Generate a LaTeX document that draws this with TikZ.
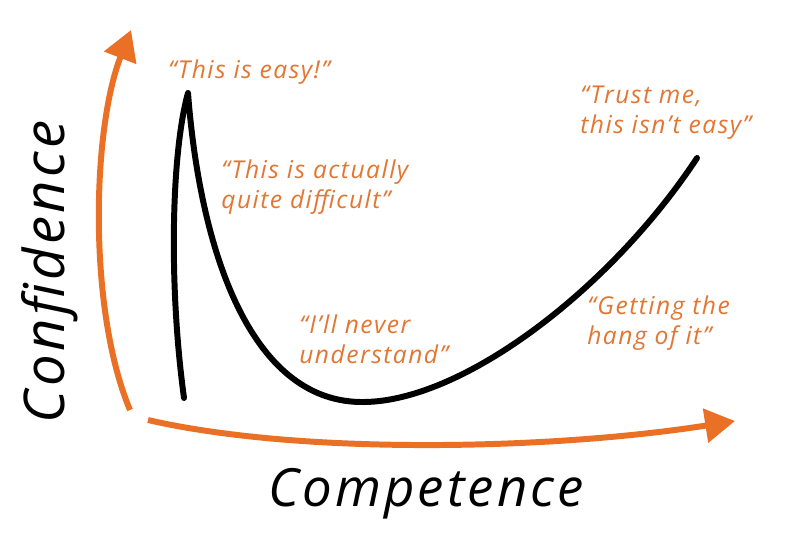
\documentclass[tikz,border=0pt]{standalone}
\usepackage{fontspec}
\setmainfont{Open Sans}
\newfontfamily\handfont[LetterSpace=6]{Open Sans}
\usepackage{xcolor}
\usetikzlibrary{arrows.meta,positioning}
\definecolor{axisorange}{RGB}{234,112,37}
\definecolor{quoteorange}{RGB}{226,118,50}

\begin{document}
\begin{tikzpicture}[x=0.02cm, y=-0.02cm,
                   axis/.style={draw=axisorange, line width=3.4pt, -{Triangle[length=17pt,width=19pt]}},
                   curve/.style={draw=black, line width=3.4pt, line cap=round, line join=round},
                   quote/.style={text=quoteorange, font=\handfont\itshape\fontsize{14}{17}\selectfont, align=left, inner sep=0pt, anchor=west},
                   axislabel/.style={font=\handfont\itshape\fontsize{30}{36}\selectfont, inner sep=0pt}]
          \useasboundingbox (0,0) rectangle (800,547);
          \coordinate (yfoot) at (130,410);
          \coordinate (ytop) at (131,30);
          \coordinate (xfoot) at (148,420);
          \coordinate (xend) at (735,421);
          \draw[axis] (yfoot) .. controls (88,310) and (92,130) .. (ytop);
          \draw[axis] (xfoot) .. controls (300,455) and (550,450) .. (xend);
          \coordinate (start) at (184,398);
          \coordinate (peak) at (188,93);
          \coordinate (low) at (360,402);
          \coordinate (finish) at (697,158);
          \draw[curve] (start) .. controls (168,280) and (172,150) .. (peak)
            .. controls (200,250) and (250,400) .. (low)
            .. controls (460,404) and (610,290) .. (finish);
          \node[quote, anchor=center] (easy) at (249,72) {“This is easy!”};
          \node[quote] (difficult) at (221,187) {“This is actually\\quite difficult”};
          \node[quote] (never) at (299,339) {“I’ll never\\understand”};
          \node[quote] (trust) at (580,113) {“Trust me,\\this isn’t easy”};
          \node[quote] (hang) at (587,323) {“Getting the\\hang of it”};
          \node[axislabel] (competence) at (426,494) {Competence};
          \node[axislabel, rotate=90, font=\handfont\itshape\fontsize{32}{38}\selectfont] (confidence) at (50,272) {Confidence};
        \end{tikzpicture}
\end{document}
